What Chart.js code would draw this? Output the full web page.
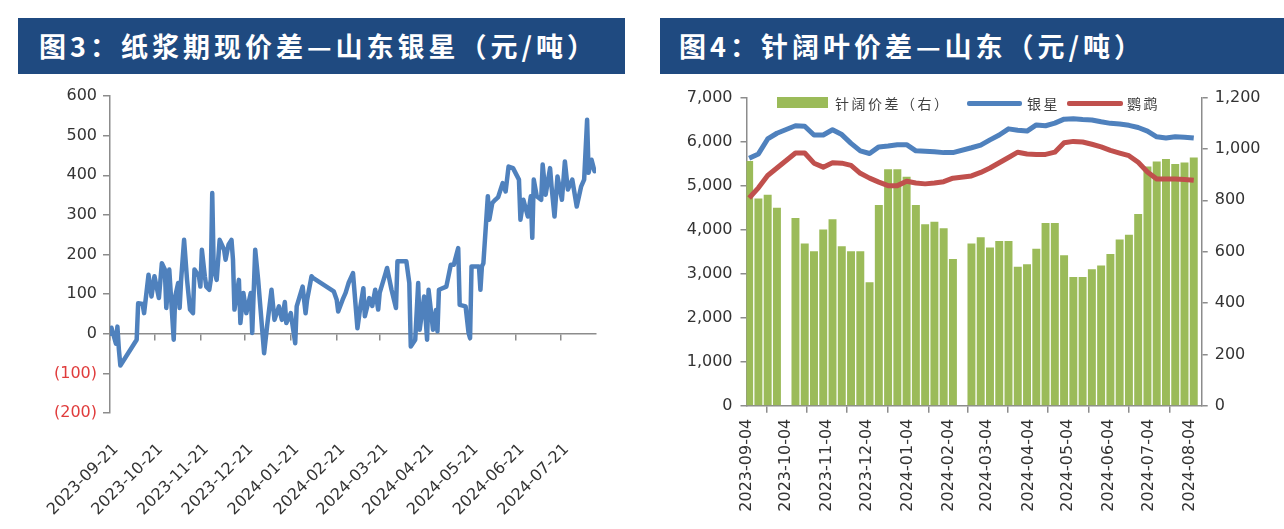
<!DOCTYPE html>
<html>
<head>
<meta charset="utf-8">
<script src="https://cdn.jsdelivr.net/npm/chart.js@4.4.1/dist/chart.umd.min.js"></script>
<style>
  html,body{margin:0;padding:0;background:#fff;}
  body{width:1284px;height:529px;position:relative;overflow:hidden;}
  .bar{position:absolute;top:18px;height:56px;background:#1f4a80;color:#fff;
       font-family:"Noto Sans CJK SC",sans-serif;font-weight:700;font-size:27px;
       line-height:56px;letter-spacing:4px;white-space:nowrap;box-sizing:border-box;}
  canvas{position:absolute;}
  .lg{position:absolute;font-family:"Noto Sans CJK SC",sans-serif;font-size:14px;color:#404040;
      letter-spacing:2.5px;line-height:16px;white-space:nowrap;}
  .sw{position:absolute;}
</style>
</head>
<body>
<div class="bar" style="left:18px;width:607px;padding-left:21px;">图3：纸浆期现价差—山东银星（元/吨）</div>
<div class="bar" style="left:660px;width:624px;padding-left:19px;">图4：针阔叶价差—山东（元/吨）</div>
<canvas id="c1" width="640" height="449" style="left:0;top:80px;"></canvas>
<canvas id="c2" width="644" height="449" style="left:640px;top:80px;"></canvas>

<div class="sw" style="left:777px;top:97px;width:51px;height:11px;background:#9bbb59;"></div>
<div class="lg" style="left:835px;top:95px;">针阔价差（右）</div>
<div class="sw" style="left:967px;top:101px;width:55px;height:5px;background:#4f81bd;border-radius:2px;"></div>
<div class="lg" style="left:1027px;top:95px;">银星</div>
<div class="sw" style="left:1067px;top:101px;width:56px;height:5px;background:#c0504d;border-radius:2px;"></div>
<div class="lg" style="left:1127px;top:95px;">鹦鹉</div>

<script>
// ---------------- data: chart 3 (纸浆期现价差—山东银星) ----------------
const dates1 = [
'2023-09-21','2023-09-22','2023-09-25','2023-09-26','2023-09-27','2023-09-28','2023-10-09','2023-10-10','2023-10-13','2023-10-14',
'2023-10-17','2023-10-19','2023-10-21','2023-10-24','2023-10-26','2023-10-28','2023-10-29','2023-10-31','2023-11-03','2023-11-04',
'2023-11-06','2023-11-07','2023-11-08','2023-11-10','2023-11-12','2023-11-14','2023-11-16','2023-11-17','2023-11-20','2023-11-21',
'2023-11-22','2023-11-24','2023-11-25','2023-11-27','2023-11-28','2023-11-29','2023-11-30','2023-12-02','2023-12-04','2023-12-07',
'2023-12-08','2023-12-10','2023-12-12','2023-12-13','2023-12-14','2023-12-17','2023-12-18','2023-12-20','2023-12-22','2023-12-25',
'2023-12-26','2023-12-28','2023-12-30','2024-01-03','2024-01-05','2024-01-08','2024-01-10','2024-01-13','2024-01-15','2024-01-17',
'2024-01-18','2024-01-21','2024-01-24','2024-01-25','2024-01-29','2024-01-31','2024-02-01','2024-02-04','2024-02-05','2024-02-19',
'2024-02-21','2024-02-22','2024-02-25','2024-02-27','2024-02-29','2024-03-03','2024-03-06','2024-03-08','2024-03-10','2024-03-11',
'2024-03-14','2024-03-16','2024-03-18','2024-03-20','2024-03-21','2024-03-25','2024-03-26','2024-03-29','2024-04-01','2024-04-02',
'2024-04-08','2024-04-10','2024-04-11','2024-04-14','2024-04-16','2024-04-17','2024-04-20','2024-04-22','2024-04-23','2024-04-25',
'2024-04-26','2024-04-28','2024-04-29','2024-04-30','2024-05-05','2024-05-08','2024-05-10','2024-05-13','2024-05-14','2024-05-18',
'2024-05-20','2024-05-21','2024-05-22','2024-05-27','2024-05-28','2024-05-29','2024-05-30','2024-06-02','2024-06-03','2024-06-05',
'2024-06-07','2024-06-09','2024-06-12','2024-06-14','2024-06-16','2024-06-19','2024-06-23','2024-06-24','2024-06-26','2024-06-29',
'2024-07-01','2024-07-02','2024-07-03','2024-07-05','2024-07-08','2024-07-09','2024-07-11','2024-07-14','2024-07-15','2024-07-17',
'2024-07-19','2024-07-22','2024-07-24','2024-07-26','2024-07-29','2024-08-01','2024-08-04','2024-08-06','2024-08-08','2024-08-09',
'2024-08-11','2024-08-13'
];
const spread1 = [
0,15,-25,18,-40,-80,-15,77,75,52,
149,94,145,90,178,162,65,162,-15,94,
128,65,136,237,136,61,52,162,145,119,
212,145,119,111,136,355,162,136,237,212,
187,225,237,187,61,136,27,103,52,103,
2,212,136,-49,18,111,35,69,35,80,
27,52,-24,69,119,52,85,145,141,107,
86,56,86,103,128,153,14,69,115,44,
90,70,111,61,103,153,166,111,65,183,
183,128,-32,-15,128,10,94,-15,111,44,
10,60,6,111,119,174,174,216,73,69,
2,-11,170,170,111,170,178,347,288,330,
338,345,380,359,422,418,389,288,338,296,
347,242,389,347,338,427,351,418,372,296,
397,338,435,364,389,321,372,389,540,406,
439,410
];
const xTickLabels1 = ['2023-09-21','2023-10-21','2023-11-21','2023-12-21','2024-01-21','2024-02-21',
  '2024-03-21','2024-04-21','2024-05-21','2024-06-21','2024-07-21'];
const xEnd1 = '2024-08-14';
const yTicks1 = [-200,-100,0,100,200,300,400,500,600];

// ---------------- data: chart 4 (针阔叶价差—山东) ----------------
const weeks2 = [
'2023-09-04','2023-09-11','2023-09-18','2023-09-25','2023-10-09','2023-10-16','2023-10-23','2023-10-30','2023-11-06','2023-11-13',
'2023-11-20','2023-11-27','2023-12-04','2023-12-11','2023-12-18','2023-12-25','2024-01-01','2024-01-08','2024-01-15','2024-01-22',
'2024-01-29','2024-02-05','2024-02-19','2024-02-26','2024-03-04','2024-03-11','2024-03-18','2024-03-25','2024-04-01','2024-04-08',
'2024-04-15','2024-04-22','2024-04-29','2024-05-06','2024-05-13','2024-05-20','2024-05-27','2024-06-03','2024-06-10','2024-06-17',
'2024-06-24','2024-07-01','2024-07-08','2024-07-15','2024-07-22','2024-07-29','2024-08-05'
];
const spreadNW = [952,806,820,770,730,630,600,685,725,620, 600,600,480,780,920,920,890,780,705,715,
  690,570,630,655,615,640,640,540,550,610, 710,710,585,500,500,530,545,590,646,665, 745,930,950,960,940,946,965];
const yinxing = [5620,5720,6060,6190,6360,6350,6150,6150,6270,6160, 5960,5790,5730,5880,5900,5930,5930,5790,5780,5770,
  5750,5750,5860,5920,6040,6150,6290,6260,6240,6380, 6360,6420,6510,6520,6500,6490,6450,6415,6400,6370, 6320,6240,6110,6080,6110,6100,6080];
const yingwu = [4720,4950,5230,5400,5740,5740,5510,5420,5520,5510, 5460,5280,5170,5080,5000,5000,5100,5060,5040,5060,
  5090,5170,5220,5300,5400,5520,5640,5760,5720,5710, 5710,5760,5975,6005,5990,5940,5880,5800,5740,5680, 5530,5310,5150,5150,5150,5140,5120];
const xTickLabels2 = ['2023-09-04','2023-10-04','2023-11-04','2023-12-04','2024-01-04','2024-02-04',
  '2024-03-04','2024-04-04','2024-05-04','2024-06-04','2024-07-04','2024-08-04'];
const xEnd2 = '2024-08-13';

// ---------------- helpers & styles ----------------
function dayNo(s){ const p = s.split('-').map(Number); return Date.UTC(p[0], p[1]-1, p[2]) / 86400000; }
const AXIS = '#8c8c8c', TXT = '#333333', NEG = '#e03c3c';
const BLUE = '#4f81bd', RED = '#c0504d', GREEN = '#9bbb59';
const tickFont = { family: 'DejaVu Sans', size: 16 };
Chart.defaults.animation = false;

// ---------------- chart 3 ----------------
const base1 = dayNo(dates1[0]);
const ticksX1 = xTickLabels1.map(s => ({ value: dayNo(s) - base1 }));
const max1 = dayNo(xEnd1) - base1;
new Chart(document.getElementById('c1'), {
  type: 'line',
  data: { datasets: [{
    data: dates1.map((s, i) => ({ x: dayNo(s) - base1, y: spread1[i] })),
    borderColor: BLUE, borderWidth: 4.5, pointRadius: 0, tension: 0,
    borderJoinStyle: 'round', borderCapStyle: 'round', xAxisID: 'x', yAxisID: 'y'
  }]},
  options: {
    responsive: false, devicePixelRatio: 1,
    layout: { padding: { top: 16, right: 44, left: 0, bottom: 0 } },
    plugins: { legend: { display: false }, tooltip: { enabled: false } },
    scales: {
      x: {
        type: 'linear', axis: 'x', position: 'bottom', min: 0, max: max1,
        grid: { display: true, drawOnChartArea: false, drawTicks: false },
        border: { display: false },
        afterBuildTicks: s => { s.ticks = ticksX1.map(t => ({ value: t.value })); },
        ticks: { autoSkip: false, minRotation: 45, maxRotation: 45, padding: 27, labelOffset: 6,
                 font: tickFont, color: TXT, callback: (v, i) => xTickLabels1[i] },
        afterFit: s => { s.height = 116; }
      },
      x0: {
        type: 'linear', axis: 'x', position: { y: 0 }, min: 0, max: max1,
        grid: { display: true, drawOnChartArea: false, drawTicks: true, tickLength: 6, color: AXIS, lineWidth: 1.5 },
        border: { display: true, color: AXIS, width: 1.5 },
        afterBuildTicks: s => { s.ticks = ticksX1.map(t => ({ value: t.value })); },
        ticks: { display: false }
      },
      y: {
        type: 'linear', position: 'left', min: -200, max: 600,
        afterBuildTicks: s => { s.ticks = yTicks1.map(v => ({ value: v })); },
        grid: { drawOnChartArea: false, tickLength: 7, color: AXIS, lineWidth: 1.5 },
        border: { color: AXIS, width: 1.5 },
        ticks: { padding: 6, font: tickFont,
                 color: ctx => (ctx.tick && ctx.tick.value < 0) ? NEG : TXT,
                 callback: v => v < 0 ? '(' + (-v) + ')' : String(v) },
        afterFit: s => { s.width = 110; }
      }
    }
  }
});

// ---------------- chart 4 ----------------
const base2 = dayNo(xTickLabels2[0]);
const ticksX2 = xTickLabels2.map(s => ({ value: dayNo(s) - base2 }));
const max2 = dayNo(xEnd2) - base2;
const wx = weeks2.map(s => dayNo(s) - base2 + 2);
const fmt = v => Number(v).toLocaleString('en-US');
new Chart(document.getElementById('c2'), {
  type: 'line',
  data: { datasets: [
    { label: '银星', data: wx.map((x, i) => ({ x, y: yinxing[i] })), borderColor: BLUE, borderWidth: 5,
      pointRadius: 0, tension: 0, borderJoinStyle: 'round', xAxisID: 'x', yAxisID: 'y', order: 0 },
    { label: '鹦鹉', data: wx.map((x, i) => ({ x, y: yingwu[i] })), borderColor: RED, borderWidth: 5,
      pointRadius: 0, tension: 0, borderJoinStyle: 'round', xAxisID: 'x', yAxisID: 'y', order: 1 },
    { type: 'bar', label: '针阔价差（右）', data: wx.map((x, i) => ({ x, y: spreadNW[i] })),
      backgroundColor: GREEN, borderWidth: 0, barThickness: 7.3, xAxisID: 'x', yAxisID: 'y1', order: 2 }
  ]},
  options: {
    responsive: false, devicePixelRatio: 1,
    layout: { padding: { top: 12, right: 0, left: 0, bottom: 0 } },
    plugins: { legend: { display: false }, tooltip: { enabled: false } },
    scales: {
      x: {
        type: 'linear', position: 'bottom', min: 0, max: max2, offset: false,
        grid: { display: true, drawOnChartArea: false, drawTicks: true, tickLength: 7, color: AXIS, lineWidth: 1.5 },
        border: { color: AXIS, width: 1.5 },
        afterBuildTicks: s => { s.ticks = ticksX2.map(t => ({ value: t.value })); },
        ticks: { autoSkip: false, minRotation: 90, maxRotation: 90, padding: 6, font: tickFont, color: TXT,
                 callback: (v, i) => xTickLabels2[i] },
        afterFit: s => { s.height = 123.3; }
      },
      y: {
        type: 'linear', position: 'left', min: 0, max: 7000,
        grid: { drawOnChartArea: false, tickLength: 6, color: AXIS, lineWidth: 1.5 },
        border: { color: AXIS, width: 1.5 },
        ticks: { stepSize: 1000, padding: 8, font: tickFont, color: TXT, callback: fmt },
        afterFit: s => { s.width = 106.5; }
      },
      y1: {
        type: 'linear', position: 'right', min: 0, max: 1200,
        grid: { drawOnChartArea: false, tickLength: 6, color: AXIS, lineWidth: 1.5 },
        border: { color: AXIS, width: 1.5 },
        ticks: { stepSize: 200, padding: 7, font: tickFont, color: TXT, callback: fmt },
        afterFit: s => { s.width = 82.3; }
      }
    }
  }
});
</script>
</body>
</html>
